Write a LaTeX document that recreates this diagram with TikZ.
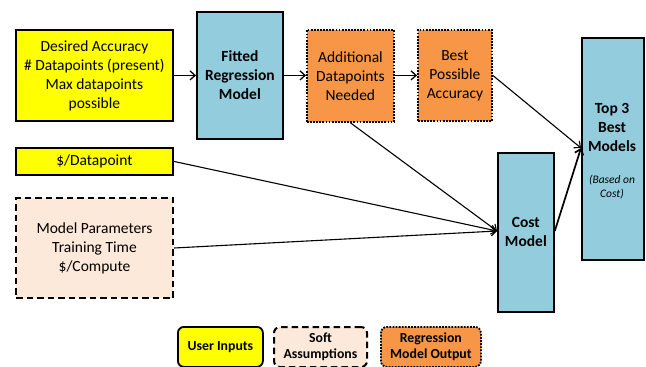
\documentclass[tikz,border=0pt]{standalone}
\usepackage{fontspec}
\setmainfont{Carlito}
\usetikzlibrary{arrows.meta}
\definecolor{uyel}{HTML}{FFFF00}
\definecolor{ublue}{HTML}{93CDDD}
\definecolor{uorg}{HTML}{F79646}
\definecolor{upeach}{HTML}{FDE9D9}
\begin{document}
\begin{tikzpicture}[x=1pt,y=-1pt,
  box/.style={draw=black,line width=1.8pt,align=center,inner sep=0pt,anchor=north west,font=\fontsize{15.5}{19}\selectfont},
  inbox/.style={box,fill=uyel},
  modbox/.style={box,fill=ublue,font=\fontsize{15.5}{19}\selectfont\bfseries},
  outbox/.style={box,fill=uorg,dash pattern=on 1.8pt off 1.3pt},
  softbox/.style={box,fill=upeach,dash pattern=on 6.5pt off 4pt,line width=2pt},
  leg/.style={rounded corners=6pt,font=\fontsize{13.8}{16.5}\selectfont\bfseries},
  arr/.style={-{Straight Barb[length=5pt,width=9pt]},line width=1.3pt},
  thinarr/.style={-{Straight Barb[length=5pt,width=9pt]},line width=1.1pt}]
\useasboundingbox (0,0) rectangle (646,367);
\node[inbox,minimum width=157,minimum height=91] (in) at (15,29) {Desired Accuracy\\\# Datapoints (present)\\Max datapoints\\possible};
\node[modbox,minimum width=86,minimum height=127] (fit) at (196,11) {Fitted\\Regression\\Model};
\node[outbox,minimum width=87,minimum height=92] (add) at (306,29) {Additional\\Datapoints\\Needed};
\node[outbox,minimum width=74,minimum height=91] (best) at (417,29) {Best\\Possible\\Accuracy};
\node[inbox,minimum width=157,minimum height=27] (dp) at (15,147) {\$/Datapoint};
\node[softbox,minimum width=157,minimum height=100] (mp) at (15,197) {Model Parameters\\Training Time\\\$/Compute};
\node[modbox,minimum width=56,minimum height=159] (cost) at (497,152) {Cost\\Model};
\node[box,fill=ublue,minimum width=62,minimum height=222] (top) at (581,37) {};
\node[font=\fontsize{15.5}{19}\selectfont\bfseries,align=center] (toptxt) at (612,127) {Top 3\\Best\\Models};
\node[font=\fontsize{11.5}{14}\selectfont\itshape,align=center] (topsub) at (612,187) {(Based on\\Cost)};
\node[inbox,leg,minimum width=85,minimum height=40] (l1) at (177,326) {User Inputs};
\node[softbox,leg,minimum width=93,minimum height=40] (l2) at (273,326) {Soft\\Assumptions};
\node[outbox,leg,minimum width=100,minimum height=40] (l3) at (380,326) {Regression\\Model Output};
\coordinate (topin) at (581,148);
\coordinate (costin) at (497,231);
\draw[arr] (in.east) -- (fit.west |- in.east);
\draw[arr] (fit.east |- in.east) -- (add.west |- in.east);
\draw[arr] (add.east |- in.east) -- (best.west |- in.east);
\draw[thinarr] (best.east |- in.east) -- (topin);
\draw[arr,line width=1.7pt] (cost.east |- costin) -- (topin);
\draw[thinarr] (add.south) -- (costin);
\draw[thinarr] (dp.east) -- (costin);
\draw[thinarr] (mp.east) -- (costin);
\end{tikzpicture}
\end{document}
